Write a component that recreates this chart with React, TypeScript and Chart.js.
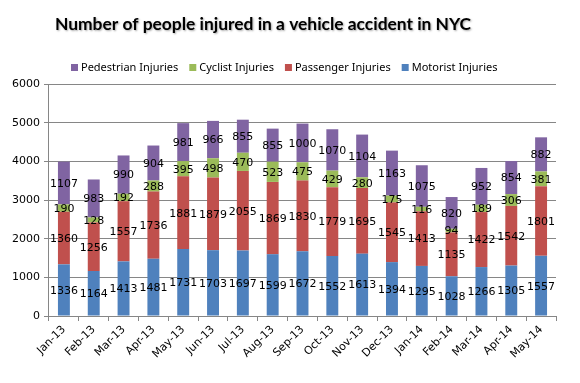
import React, { useEffect, useRef } from "react";
import { Chart, registerables } from "chart.js";

Chart.register(...registerables);

const categories = ["Jan-13","Feb-13","Mar-13","Apr-13","May-13","Jun-13","Jul-13","Aug-13","Sep-13","Oct-13","Nov-13","Dec-13","Jan-14","Feb-14","Mar-14","Apr-14","May-14"];
const motorist = [1336,1164,1413,1481,1731,1703,1697,1599,1672,1552,1613,1394,1295,1028,1266,1305,1557];
const passenger = [1360,1256,1557,1736,1881,1879,2055,1869,1830,1779,1695,1545,1413,1135,1422,1542,1801];
const cyclist = [190,128,192,288,395,498,470,523,475,429,280,175,116,94,189,306,381];
const pedestrian = [1107,983,990,904,981,966,855,855,1000,1070,1104,1163,1075,820,952,854,882];
const yTicks = [0,1000,2000,3000,4000,5000,6000];

const titleText = "Number of people injured in a vehicle accident in NYC";
const FONT = '"DejaVu Sans", sans-serif';
const LEGEND_FONT = '"Noto Sans", sans-serif';

const labelPlugin = {
  id: "segLabels",
  afterDatasetsDraw(chart: any) {
    const ctx = chart.ctx;
    ctx.save();
    ctx.font = `11px ${FONT}`;
    ctx.fillStyle = "#000";
    ctx.textAlign = "center";
    ctx.textBaseline = "middle";
    chart.data.datasets.forEach((ds: any, i: number) => {
      const meta = chart.getDatasetMeta(i);
      meta.data.forEach((el: any, j: number) => {
        const y = (el.y + el.base) / 2;
        ctx.fillText(String(ds.data[j]), el.x, y + 1);
      });
    });
    ctx.restore();
  },
};

const headerPlugin = {
  id: "header",
  afterDraw(chart: any) {
    const ctx = chart.ctx;
    ctx.save();
    ctx.font = `bold 17.4px Lato, sans-serif`;
    ctx.textAlign = "left";
    ctx.textBaseline = "middle";
    ctx.shadowColor = "rgba(0,0,0,0.35)";
    ctx.shadowOffsetX = 1;
    ctx.shadowOffsetY = 1;
    ctx.shadowBlur = 2;
    ctx.fillStyle = "#000";
    ctx.fillText(titleText, 55, 24);
    ctx.restore();

    // legend (reverse order)
    ctx.save();
    ctx.font = `11px ${LEGEND_FONT}`;
    ctx.textBaseline = "middle";
    ctx.textAlign = "left";
    const ds = chart.data.datasets.slice().reverse();
    let x = 71;
    const y = 68;
    ds.forEach((d: any) => {
      ctx.fillStyle = d.backgroundColor;
      ctx.fillRect(x, y - 4, 7, 7);
      ctx.fillStyle = "#000";
      ctx.fillText(d.label, x + 10, y);
      x += 10 + ctx.measureText(d.label).width + 11;
    });
    ctx.restore();
  },
};

export default function App() {
  const ref = useRef<HTMLCanvasElement>(null);
  useEffect(() => {
    document.body.style.margin = "0";
    const chart = new Chart(ref.current!, {
      type: "bar",
      data: {
        labels: categories,
        datasets: [
          { label: "Motorist Injuries", data: motorist, backgroundColor: "#4F81BD" },
          { label: "Passenger Injuries", data: passenger, backgroundColor: "#C0504D" },
          { label: "Cyclist Injuries", data: cyclist, backgroundColor: "#9BBB59" },
          { label: "Pedestrian Injuries", data: pedestrian, backgroundColor: "#8064A2" },
        ],
      },
      options: {
        animation: false,
        responsive: false,
        layout: { padding: { top: 84, left: 8, right: 24, bottom: 20 } },
        plugins: {
          legend: { display: false },
          title: { display: false },
          tooltip: { enabled: false },
        },
        datasets: { bar: { barPercentage: 0.4, categoryPercentage: 1 } },
        scales: {
          x: {
            stacked: true,
            grid: { display: true, drawOnChartArea: false, offset: true, tickLength: 5, color: "#868686" },
            border: { color: "#868686" },
            ticks: { maxRotation: 45, minRotation: 45, color: "#000", font: { family: FONT, size: 11 }, padding: 2 },
          },
          y: {
            stacked: true,
            min: 0,
            max: 6000,
            afterBuildTicks: (axis: any) => { axis.ticks = yTicks.map((v) => ({ value: v })); },
            grid: { color: "#868686", tickLength: 5 },
            border: { color: "#868686" },
            ticks: { color: "#000", font: { family: FONT, size: 11 }, padding: 4, callback: (v: any) => String(v) },
          },
        },
      },
      plugins: [labelPlugin, headerPlugin],
    });
    return () => chart.destroy();
  }, []);
  return <canvas ref={ref} width={580} height={383} style={{ display: "block" }} />;
}
